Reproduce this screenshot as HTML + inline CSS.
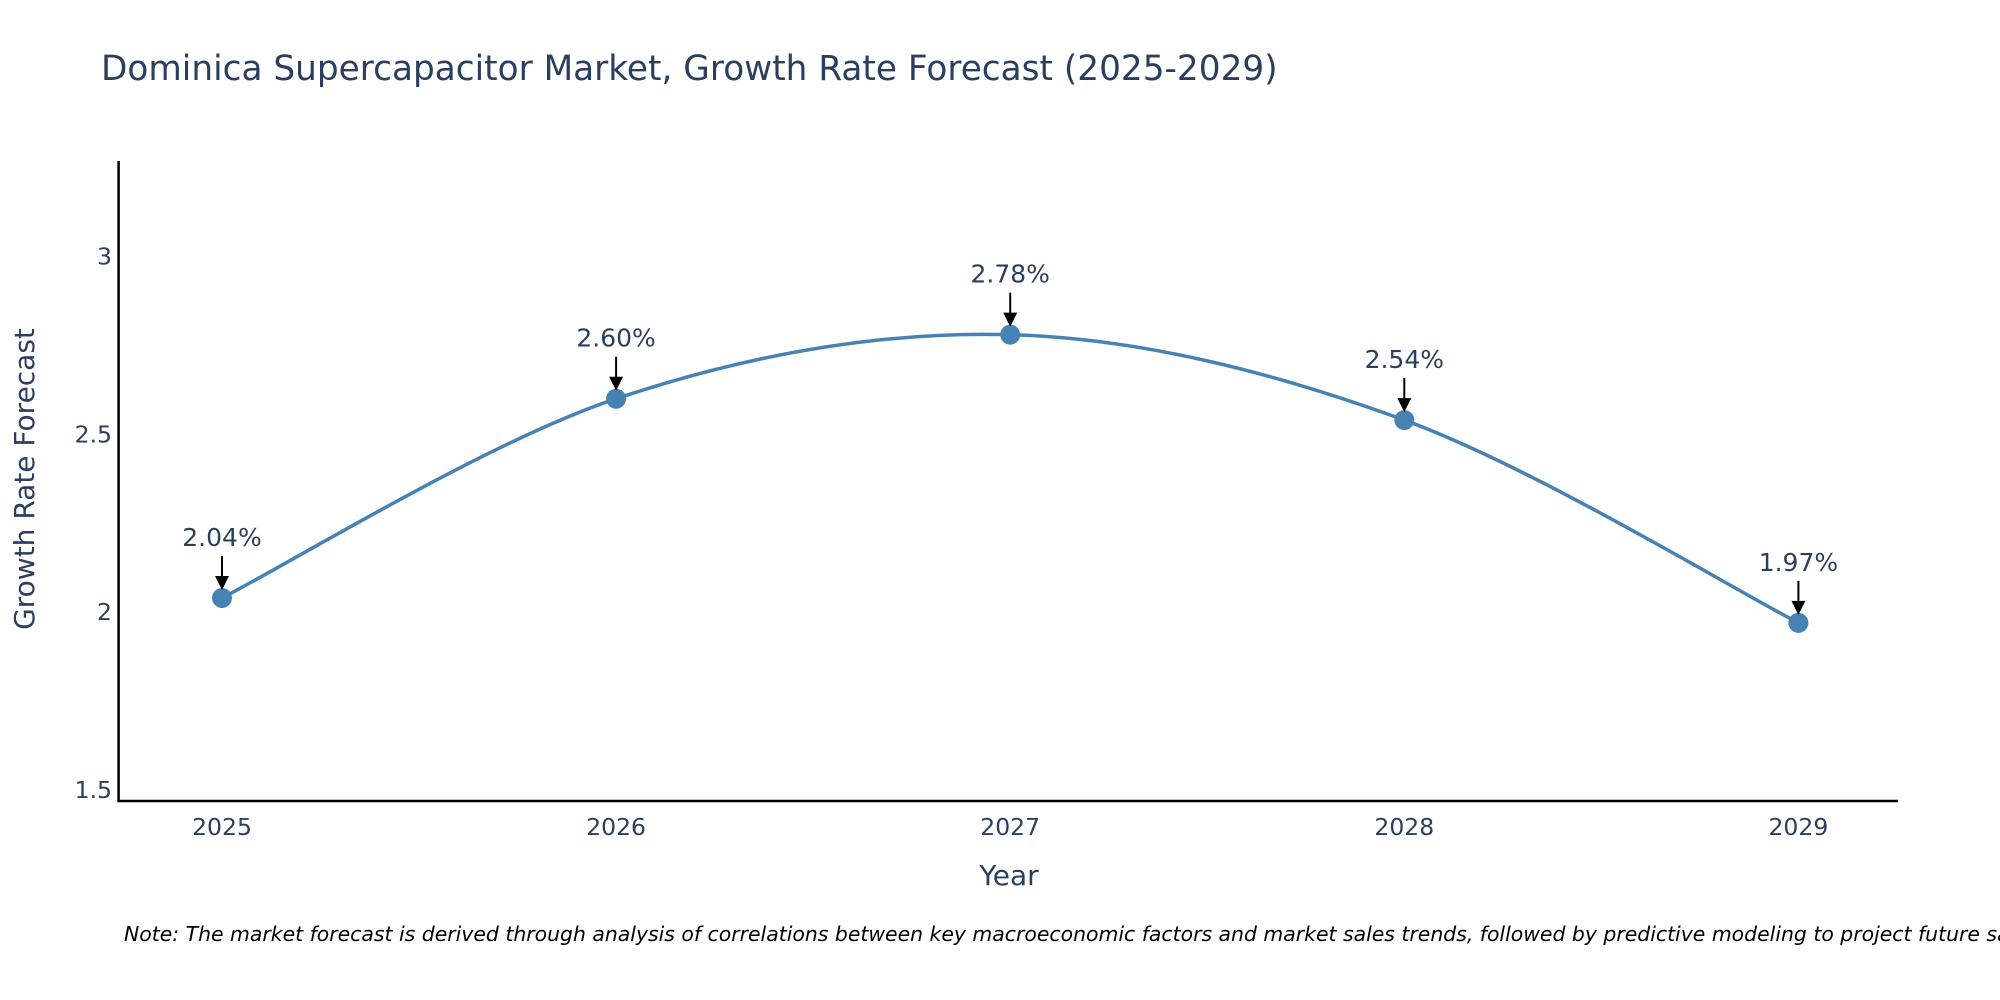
<!DOCTYPE html>
<html><head><meta charset="utf-8"><style>
html,body{margin:0;padding:0;background:#fff;}
svg{display:block;font-family:"DejaVu Sans","Liberation Sans",sans-serif;}
</style></head><body>
<svg id="chart" width="2000" height="1000" viewBox="0 0 2000 1000">
<text x="101" y="80" font-size="34.3" fill="#2a3f5f">Dominica Supercapacitor Market, Growth Rate Forecast (2025-2029)</text>
<g id="yticks"></g>
<g id="xticks"></g>
<g id="series"></g>
<line x1="118.6" y1="161" x2="118.6" y2="801" stroke="#000" stroke-width="2.5"/>
<line x1="117.4" y1="801" x2="1898" y2="801" stroke="#000" stroke-width="2.5"/>
<text x="34" y="479" font-size="28" fill="#2a3f5f" text-anchor="middle" transform="rotate(-90 34 479)">Growth Rate Forecast</text>
<text x="1009" y="885" font-size="28" fill="#2a3f5f" text-anchor="middle">Year</text>
<text x="124" y="941" font-size="20.4" font-style="italic" fill="#000">Note: The market forecast is derived through analysis of correlations between key macroeconomic factors and market sales trends, followed by predictive modeling to project future sales.</text>
</svg>
<script>
const years = [2025, 2026, 2027, 2028, 2029];
const rates = [2.04, 2.60, 2.78, 2.54, 1.97];
const labels = ["2.04%", "2.60%", "2.78%", "2.54%", "1.97%"];
const yTickVals = [1.5, 2, 2.5, 3];
const yTickLabels = ["1.5", "2", "2.5", "3"];

const NS = "http://www.w3.org/2000/svg";
function xs(v){ return 222 + (v - 2025) * 394.1; }
function ys(v){ return 612.2 - (v - 2) * 355.8; }
function mk(tag, attrs, parent){ const e=document.createElementNS(NS,tag); for(const k in attrs) e.setAttribute(k,attrs[k]); parent.appendChild(e); return e; }

const yt=document.getElementById('yticks');
yTickVals.forEach((v,i)=>{
  const t=mk('text',{x:112,y:ys(v)+8,'font-size':23.5,fill:'#2a3f5f','text-anchor':'end'},yt);
  
  
  t.textContent=yTickLabels[i];
});
const xt=document.getElementById('xticks');
years.forEach(y=>{
  const t=mk('text',{x:xs(y),y:835,'font-size':23.5,fill:'#2a3f5f','text-anchor':'middle'},xt);
  
  
  t.textContent=String(y);
});

const g=document.getElementById('series');
const pts=years.map((y,i)=>[xs(y),ys(rates[i])]);
let d=`M${pts[0][0]},${pts[0][1]}`;
const s=0.33;
for(let i=0;i<pts.length-1;i++){
  const p0=pts[Math.max(0,i-1)],p1=pts[i],p2=pts[i+1],p3=pts[Math.min(pts.length-1,i+2)];
  const c1=[p1[0]+(p2[0]-p0[0])*s/2,p1[1]+(p2[1]-p0[1])*s/2];
  const c2=[p2[0]-(p3[0]-p1[0])*s/2,p2[1]-(p3[1]-p1[1])*s/2];
  d+=` C${c1[0]},${c1[1]} ${c2[0]},${c2[1]} ${p2[0]},${p2[1]}`;
}
const line=mk('path',{d:d,fill:'none',stroke:'#4682b4','stroke-width':3.5},g);



pts.forEach((p,i)=>{
  const c=mk('circle',{cx:p[0],cy:p[1],r:10,fill:'#4682b4'},g);
  
  
  const a=mk('line',{x1:p[0],y1:p[1]-42,x2:p[0],y2:p[1]-20,stroke:'#000','stroke-width':2},g);
  
  
  const h=mk('polygon',{points:`${p[0]-7},${p[1]-22} ${p[0]+7},${p[1]-22} ${p[0]},${p[1]-8}`,fill:'#000'},g);
  
  
  const t=mk('text',{x:p[0],y:p[1]-52,'font-size':25,fill:'#2a3f5f','text-anchor':'middle'},g);
  
  
  t.textContent=labels[i];
});
</script>
</body></html>
